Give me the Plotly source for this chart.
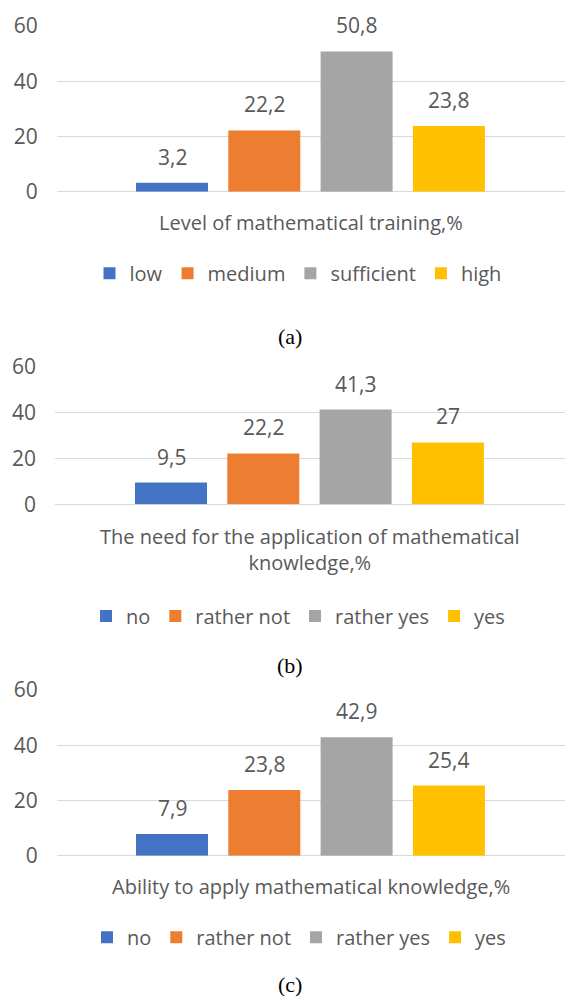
import plotly.graph_objects as go

W, H = 565, 996

# ---------------- data ----------------
cats_a = ["low", "medium", "sufficient", "high"]
vals_a = [3.2, 22.2, 50.8, 23.8]

cats_b = ["no", "rather not", "rather yes", "yes"]
vals_b = [9.5, 22.2, 41.3, 27]

cats_c = ["no", "rather not", "rather yes", "yes"]
vals_c = [7.9, 23.8, 42.9, 25.4]

titles = [
    "Level of mathematical training,%",
    "The need for the application of mathematical<br>knowledge,%",
    "Ability to apply mathematical knowledge,%",
]
captions = ["(a)", "(b)", "(c)"]
y_ticks = [0, 20, 40, 60]
colors = ["#4472C4", "#ED7D31", "#A5A5A5", "#FFC000"]

# ---------------- layout geometry (pixels) ----------------
FONT = "Open Sans"
TXT = "#595959"
GRID = "#D9D9D9"
SLOT = 92.3          # px per category
panels = [
    dict(cats=cats_a, vals=vals_a, left=56.7, first=172.0, y0=191.7, y60=26.0,
         title_y=222.7, legend_x=298, legend_y=273.3, cap_y=336),
    dict(cats=cats_b, vals=vals_b, left=55.0, first=171.0, y0=504.3, y60=366.7,
         title_y=549.3, legend_x=298, legend_y=616.0, cap_y=665),
    dict(cats=cats_c, vals=vals_c, left=56.7, first=172.0, y0=855.7, y60=690.0,
         title_y=886.7, legend_x=299, legend_y=937.3, cap_y=984),
]


def py(p):
    return 1 - p / H


fig = go.Figure()
annotations = []
layout = dict(
    template="none",
    width=W, height=H,
    margin=dict(l=0, r=0, t=0, b=0, pad=0, autoexpand=False),
    paper_bgcolor="white", plot_bgcolor="white",
    barmode="overlay", bargap=0.22,
    separators=",.",
    font=dict(family=FONT, size=21, color=TXT),
)

for i, p in enumerate(panels):
    n = "" if i == 0 else str(i + 1)
    xa, ya = "x" + n, "y" + n
    leg = "legend" + n
    for j, (c, v) in enumerate(zip(p["cats"], p["vals"])):
        fig.add_trace(go.Bar(
            x=[c], y=[v], name=c, xaxis=xa, yaxis=ya, legend=leg,
            marker=dict(color=colors[j], line=dict(width=0)),
            hoverinfo="x+y",
        ))
        annotations.append(dict(
            x=c, y=v, xref=xa, yref=ya, text=str(v).replace(".", ","),
            showarrow=False, yanchor="bottom", yshift=10,
            font=dict(family=FONT, size=21, color=TXT),
        ))
    # x axis: categories, range chosen so bars sit where the reference has them
    plot_w = W - p["left"]
    start = -(p["first"] - p["left"]) / SLOT
    layout["xaxis" + n] = dict(
        domain=[p["left"] / W, 1], anchor=ya, type="category",
        categoryorder="array", categoryarray=p["cats"],
        range=[start, start + plot_w / SLOT], automargin=False,
        showticklabels=False, showgrid=False, zeroline=False, showline=False,
        ticks="", fixedrange=True,
    )
    layout["yaxis" + n] = dict(
        domain=[py(p["y0"]), py(p["y60"])], anchor=xa, automargin=False,
        range=[0, 60], tickvals=y_ticks, showgrid=True, gridcolor=GRID,
        gridwidth=1, zeroline=True, zerolinecolor=GRID, zerolinewidth=1,
        showline=False, ticks="", ticklabelstandoff=18,
        tickfont=dict(family=FONT, size=21, color=TXT), fixedrange=True,
    )
    layout[leg] = dict(
        orientation="h", x=p["legend_x"] / W, xanchor="center",
        y=py(p["legend_y"]), yanchor="middle", bgcolor="rgba(0,0,0,0)",
        borderwidth=0,
        font=dict(family=FONT, size=20, color=TXT), traceorder="normal",
    )
    # axis title
    annotations.append(dict(
        x=(p["left"] + W) / 2 / W, y=py(p["title_y"]), xref="paper", yref="paper",
        text=titles[i], showarrow=False, xanchor="center", yanchor="middle",
        font=dict(family=FONT, size=20, color=TXT),
    ))
    # caption
    annotations.append(dict(
        x=290 / W, y=py(p["cap_y"]), xref="paper", yref="paper",
        text=captions[i], showarrow=False, xanchor="center", yanchor="middle",
        font=dict(family="Liberation Serif", size=22, color="black"),
    ))

layout["annotations"] = annotations
fig.update_layout(**layout)
fig.write_html(
    "out.html",
    config={"displayModeBar": False},
    post_script=(
        "var gd=document.getElementById('{plot_id}');"
        "gd.style.position='fixed';gd.style.top='0';gd.style.left='0';"
        "document.documentElement.style.margin='0';"
        "document.documentElement.style.overflow='hidden';"
        "document.body.style.margin='0';"
        "document.body.style.overflow='hidden';"
    ),
)
